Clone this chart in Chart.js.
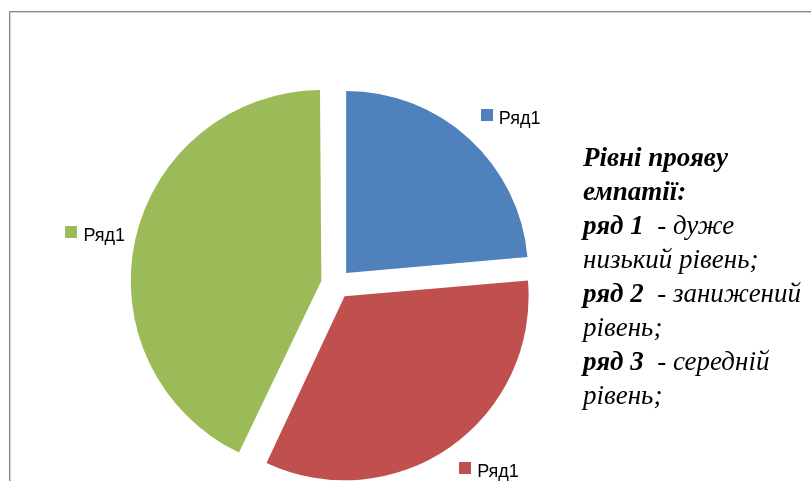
<!DOCTYPE html>
<html>
<head>
<meta charset="utf-8">
<script src="https://cdn.jsdelivr.net/npm/chart.js@4.4.0/dist/chart.umd.min.js"></script>
<style>
  html, body { margin: 0; padding: 0; background: #fff; overflow: hidden; }
  #wrap { position: relative; width: 811px; height: 481px; }
  #frame {
    position: absolute; left: 9px; top: 11px; width: 900px; height: 600px;
    border-left: 1px solid #878787; border-top: 1px solid #878787;
    box-shadow: inset 1px 1px 0 #d4d4d4;
  }
  canvas { position: absolute; left: 0; top: 0; }
  #note {
    position: absolute; left: 583px; top: 140px;
    font-family: "Liberation Serif", "Times New Roman", serif;
    font-style: italic; font-size: 27px; line-height: 34px;
    white-space: pre; color: #000;
  }
  #note b { font-weight: bold; }
</style>
</head>
<body>
<div id="wrap">
  <div id="frame"></div>
  <canvas id="chartPie" width="811" height="481"></canvas>
  <div id="note"></div>
</div>
<script>
var labels = ["Ряд1", "Ряд1", "Ряд1"];
var values = [23.6, 33.4, 43.0];
var colors = ["#4f81bd", "#c0504d", "#9bbb59"];

// text box on the right: each line is a list of [text, bold]
var noteLines = [
  [["Рівні прояву", true]],
  [["емпатії:", true]],
  [["ряд 1 ", true], [" - дуже", false]],
  [["низький рівень;", false]],
  [["ряд 2 ", true], [" - занижений", false]],
  [["рівень;", false]],
  [["ряд 3 ", true], [" - середній", false]],
  [["рівень;", false]]
];

var note = document.getElementById('note');
noteLines.forEach(function(line) {
  var div = document.createElement('div');
  line.forEach(function(run) {
    var el = document.createElement(run[1] ? 'b' : 'span');
    el.textContent = run[0];
    div.appendChild(el);
  });
  note.appendChild(div);
});

var sliceLabels = {
  id: 'sliceLabels',
  afterDatasetsDraw: function(chart) {
    var ctx = chart.ctx;
    var meta = chart.getDatasetMeta(0);
    ctx.save();
    ctx.font = '18px "Liberation Sans", Arial, sans-serif';
    ctx.textBaseline = 'alphabetic';
    meta.data.forEach(function(arc, i) {
      var p = arc.getProps(['x', 'y', 'startAngle', 'endAngle', 'outerRadius']);
      var mid = (p.startAngle + p.endAngle) / 2;
      var shift = (arc.options.offset || 0) / 4;
      var dx = Math.cos(mid), dy = Math.sin(mid);
      var cx = p.x + dx * shift, cy = p.y + dy * shift;
      var r = p.outerRadius + 13;
      var px = cx + dx * r, py = cy + dy * r;
      var tw = ctx.measureText(labels[i]).width;
      var w = 18 + tw;
      var left = dx >= 0 ? px + 3 : px - w - 6;
      var base = py + (dy - 1) / 2 * 34 + 24;
      ctx.fillStyle = colors[i];
      ctx.fillRect(Math.round(left), Math.round(base - 15), 12, 12);
      ctx.fillStyle = '#000';
      ctx.fillText(labels[i], left + 18, base);
    });
    ctx.restore();
  }
};

new Chart(document.getElementById('chartPie'), {
  type: 'pie',
  data: {
    labels: labels,
    datasets: [{
      data: values,
      backgroundColor: colors,
      borderWidth: 0,
      offset: 60,
      hoverOffset: 0,
      radius: 182
    }]
  },
  options: {
    responsive: false,
    animation: false,
    events: [],
    layout: { padding: { left: 0, right: 139, top: 87, bottom: 0 } },
    plugins: {
      legend: { display: false },
      tooltip: { enabled: false }
    }
  },
  plugins: [sliceLabels]
});
</script>
</body>
</html>
